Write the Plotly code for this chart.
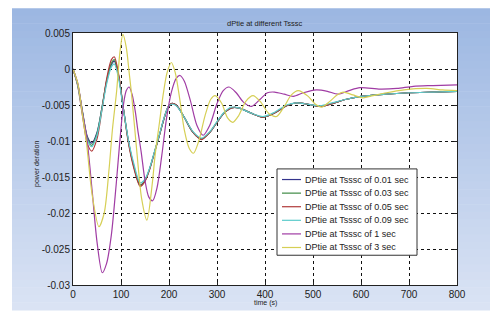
import plotly.graph_objects as go

# ---------------- data ----------------
t_main = [0, 10, 20, 30, 39, 50, 60, 70, 80, 86, 95, 104, 115, 125, 140, 150, 160, 170, 180, 190,
          198, 205, 215, 230, 250, 268, 285, 300, 315, 330, 345, 370, 396, 420, 445, 465, 490, 515,
          540, 570, 600, 650, 700, 750, 800]
v_001 = [0, -0.0022, -0.0060, -0.0094, -0.0103, -0.0088, -0.0055, -0.0018, 0.0006, 0.0011, -0.0010,
         -0.0050, -0.0098, -0.0130, -0.0161, -0.0155, -0.0138, -0.0115, -0.0092, -0.0068,
         -0.0053, -0.0048, -0.0050, -0.0065, -0.0088, -0.0097, -0.0088, -0.0074, -0.0061, -0.0054,
         -0.0054, -0.0061, -0.0067, -0.0061, -0.0051, -0.0047, -0.0049, -0.0052,
         -0.0048, -0.0042, -0.0038, -0.0035, -0.0033, -0.0032, -0.0031]
v_003 = [0, -0.0022, -0.0061, -0.0096, -0.0106, -0.0090, -0.0055, -0.0016, 0.0008, 0.0013, -0.0009,
         -0.0050, -0.0099, -0.0131, -0.0162, -0.0155, -0.0138, -0.0115, -0.0092, -0.0068,
         -0.0053, -0.0048, -0.0050, -0.0065, -0.0088, -0.0097, -0.0088, -0.0074, -0.0061, -0.0054,
         -0.0054, -0.0061, -0.0067, -0.0061, -0.0051, -0.0047, -0.0049, -0.0052,
         -0.0048, -0.0042, -0.0038, -0.0035, -0.0033, -0.0032, -0.0031]
v_005 = [0, -0.0024, -0.0066, -0.0104, -0.0114, -0.0097, -0.0058, -0.0014, 0.0013, 0.0017, -0.0007,
         -0.0050, -0.0101, -0.0133, -0.0163, -0.0156, -0.0139, -0.0115, -0.0092, -0.0068,
         -0.0053, -0.0048, -0.0050, -0.0065, -0.0088, -0.0098, -0.0088, -0.0074, -0.0061, -0.0054,
         -0.0054, -0.0061, -0.0067, -0.0061, -0.0051, -0.0047, -0.0049, -0.0052,
         -0.0048, -0.0042, -0.0038, -0.0035, -0.0033, -0.0032, -0.0031]
v_009 = [0, -0.0023, -0.0063, -0.0099, -0.0108, -0.0092, -0.0058, -0.0021, 0.0003, 0.0007, -0.0013,
         -0.0052, -0.0097, -0.0127, -0.0158, -0.0153, -0.0137, -0.0114, -0.0091, -0.0067,
         -0.0053, -0.0049, -0.0051, -0.0065, -0.0087, -0.0096, -0.0087, -0.0073, -0.0060, -0.0053,
         -0.0054, -0.0061, -0.0066, -0.0060, -0.0050, -0.0047, -0.0049, -0.0051,
         -0.0047, -0.0042, -0.0038, -0.0035, -0.0033, -0.0032, -0.0031]

t_1s = [0, 10, 20, 29, 40, 50, 61, 70, 80, 90, 98, 105, 111, 117, 123, 130, 135, 142, 150, 158, 166,
        175, 185, 195, 205, 215, 223, 232, 245, 258, 271, 285, 300, 313, 325, 340, 355, 372, 390,
        405, 420, 440, 459, 480, 507, 530, 552, 575, 598, 640, 675, 709, 750, 800]
v_1s = [0, -0.0020, -0.0062, -0.0097, -0.0170, -0.0240, -0.0283, -0.0270, -0.0230, -0.0160, -0.0097,
        -0.0050, -0.0030, -0.0025, -0.0035, -0.0060, -0.0085, -0.0115, -0.0155, -0.0178, -0.0183,
        -0.0165, -0.0120, -0.0068, -0.0032, -0.0013, -0.0009, -0.0017, -0.0045, -0.0078, -0.0092,
        -0.0078, -0.0048, -0.0030, -0.0025, -0.0033, -0.0046, -0.0052, -0.0042,
        -0.0033, -0.0032, -0.0035, -0.0038, -0.0033, -0.0029, -0.0031, -0.0035, -0.0030, -0.0026,
        -0.0028, -0.0027, -0.0024, -0.0023, -0.0022]

t_3s = [0, 10, 20, 28, 40, 54, 65, 75, 82, 91, 98, 104, 111, 117, 122, 133, 143, 154, 165, 171, 180,
        188, 196, 205, 213, 222, 232, 242, 251, 262, 275, 287, 296, 310, 322, 333, 345, 360, 375,
        390, 408, 424, 440, 455, 469, 490, 505, 518, 535, 550, 563, 583, 604, 625, 653, 690, 737,
        770, 800]
v_3s = [0, -0.0020, -0.0065, -0.0102, -0.0175, -0.0219, -0.0200, -0.0140, -0.0085, -0.0030, 0.0025,
        0.0048, 0.0030, -0.0005, -0.0035, -0.0115, -0.0180, -0.0210, -0.0160, -0.0120, -0.0075,
        -0.0035, -0.0005, 0.0009, -0.0005, -0.0040, -0.0085, -0.0110, -0.0117, -0.0100, -0.0065,
        -0.0042, -0.0037, -0.0048, -0.0068, -0.0074, -0.0065, -0.0045, -0.0037,
        -0.0045, -0.0062, -0.0066, -0.0052, -0.0036, -0.0030, -0.0038, -0.0049, -0.0053, -0.0045,
        -0.0036, -0.0032, -0.0036, -0.0040, -0.0037, -0.0033, -0.0029, -0.0027,
        -0.0029, -0.0030]

series_names = ["DPtie at Tsssc of 0.01 sec", "DPtie at Tsssc of 0.03 sec",
                "DPtie at Tsssc of 0.05 sec", "DPtie at Tsssc of 0.09 sec",
                "DPtie at Tsssc of 1 sec", "DPtie at Tsssc of 3 sec"]
series_x = [t_main, t_main, t_main, t_main, t_1s, t_3s]
series_y = [v_001, v_003, v_005, v_009, v_1s, v_3s]
series_colors = ["#34348c", "#3f8a44", "#b03a3a", "#5ccccc", "#a03ca4", "#d6cf55"]

x_ticks = [0, 100, 200, 300, 400, 500, 600, 700, 800]
y_ticks = [0.005, 0, -0.005, -0.01, -0.015, -0.02, -0.025, -0.03]
y_tick_text = ["0.005", "0", "-0.005", "-0.01", "-0.015", "-0.02", "-0.025", "-0.03"]

# ---------------- figure ----------------
W, H = 490, 312
L, R, T, B = 73, 33, 33, 25
PW, PH = W - L - R, H - T - B

def px_x(p):
    return (p - L) / PW

def px_y(p):
    return (H - B - p) / PH

fig = go.Figure()
for name, xs, ys, col in zip(series_names, series_x, series_y, series_colors):
    fig.add_trace(go.Scatter(x=xs, y=ys, mode="lines", name=name,
                             line=dict(color=col, width=1.2, shape="spline", smoothing=0.8),
                             showlegend=False))

shapes = []
# vertical blue gradient background (MATLAB figure window look)
top_c = (156, 183, 226)
bot_c = (218, 227, 244)
n = 40
y_top, y_bot = 8, H
for i in range(n):
    f = i / (n - 1)
    c = tuple(int(round(top_c[k] + (bot_c[k] - top_c[k]) * f)) for k in range(3))
    p0 = y_top + (y_bot - y_top) * i / n
    p1 = y_top + (y_bot - y_top) * (i + 1) / n + 0.6
    shapes.append(dict(type="rect", xref="paper", yref="paper", layer="below",
                       x0=px_x(12), x1=px_x(W + 2), y0=px_y(min(p1, H + 2)), y1=px_y(p0),
                       fillcolor="rgb(%d,%d,%d)" % c, line=dict(width=0)))
# white plot area
shapes.append(dict(type="rect", xref="paper", yref="paper", layer="below",
                   x0=0, x1=1, y0=0, y1=1, fillcolor="white", line=dict(width=0)))

# custom compact legend
lg_x0, lg_x1, lg_y0, lg_y1 = 277, 417, 170, 257
row_y = [180.7, 194.4, 208.1, 221.8, 235.5, 249.2]
annotations = []
shapes.append(dict(type="rect", xref="paper", yref="paper", layer="above",
                   x0=px_x(lg_x0), x1=px_x(lg_x1), y0=px_y(lg_y1), y1=px_y(lg_y0),
                   fillcolor="white", line=dict(color="#333333", width=1)))
for i, (name, col) in enumerate(zip(series_names, series_colors)):
    shapes.append(dict(type="line", xref="paper", yref="paper", layer="above",
                       x0=px_x(282), x1=px_x(301), y0=px_y(row_y[i]), y1=px_y(row_y[i]),
                       line=dict(color=col, width=1.2)))
    annotations.append(dict(text=name, xref="paper", yref="paper", x=px_x(303), y=px_y(row_y[i]),
                            xanchor="left", yanchor="middle", showarrow=False,
                            font=dict(size=9, color="#222222", family="Liberation Sans, Arial")))

# title and axis titles
annotations.append(dict(text="dPtie at different Tsssc", xref="paper", yref="paper",
                        x=px_x(264), y=px_y(23), xanchor="center", yanchor="middle",
                        showarrow=False, font=dict(size=7.5, color="#222222")))
annotations.append(dict(text="time (s)", xref="paper", yref="paper",
                        x=px_x(265), y=px_y(305), xanchor="center", yanchor="middle",
                        showarrow=False, font=dict(size=7, color="#222222")))
annotations.append(dict(text="power deration", xref="paper", yref="paper",
                        x=px_x(37), y=px_y(165), xanchor="center", yanchor="middle", textangle=-90,
                        showarrow=False, font=dict(size=7, color="#222222")))

axis_common = dict(showline=True, linecolor="#222222", linewidth=1, mirror="ticks",
                   ticks="inside", ticklen=3, tickcolor="#222222",
                   showgrid=True, gridcolor="#111111", gridwidth=1, griddash="3px,3px",
                   zeroline=False, tickfont=dict(size=10, color="#222222"))

fig.update_layout(
    width=W, height=H,
    margin=dict(l=L, r=R, t=T, b=B, pad=0),
    paper_bgcolor="white", plot_bgcolor="white",
    font=dict(family="Liberation Sans, Arial, sans-serif", color="#222222"),
    xaxis=dict(range=[0, 800], tickvals=x_ticks, **axis_common),
    yaxis=dict(range=[-0.03, 0.005], tickvals=y_ticks, ticktext=y_tick_text, **axis_common),
    shapes=shapes, annotations=annotations, showlegend=False,
)

fig.write_html("out.html", config={"displayModeBar": False},
               post_script="document.body.style.margin='0';document.body.style.padding='0';"
                           "document.body.style.overflow='hidden';")
